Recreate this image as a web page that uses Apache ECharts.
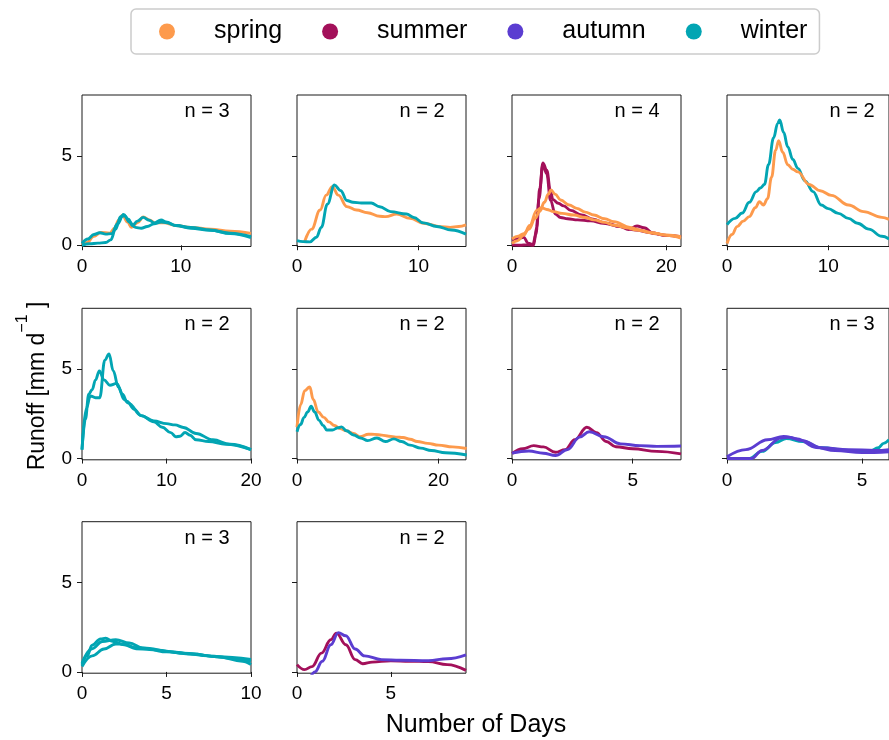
<!DOCTYPE html>
<html>
<head>
<meta charset="utf-8">
<script src="https://cdn.jsdelivr.net/npm/echarts@6/dist/echarts.min.js"></script>
<style>
html,body{margin:0;padding:0;background:#fff;}
#chart{width:889px;height:740px;}
</style>
</head>
<body>
<div id="chart"></div>
<script>
// ---------- DATA ----------
const seasons = ['spring', 'summer', 'autumn', 'winter'];
const nLabels = [3, 2, 4, 2, 2, 2, 2, 3, 3, 2];
const xMax = [17.1, 13.9, 21.9, 16, 20, 23.9, 7, 6, 10, 9];
const xTicks = [[0, 10], [0, 10], [0, 20], [0, 10], [0, 10, 20], [0, 20], [0, 5], [0, 5], [0, 5, 10], [0, 5]];
const yTicks = [0, 5];

// panel 1
const p1_spring = [[0,0],[0.5,0.15],[1.2,0.5],[1.9,0.72],[2.8,0.68],[3.3,0.95],[3.7,1.4],[4.1,1.68],[4.6,1.3],[5.0,1.0],[5.6,1.25],[6.2,1.58],[6.8,1.42],[7.4,1.25],[8.3,1.25],[9.5,1.1],[11,1.0],[13,0.9],[15,0.78],[17.1,0.66]];
const p1_winterA = [[0,0.1],[0.6,0.35],[1.2,0.6],[1.8,0.7],[2.4,0.62],[3.0,0.65],[3.6,1.2],[4.2,1.72],[4.7,1.45],[5.1,1.1],[5.6,1.35],[6.2,1.56],[6.8,1.4],[7.3,1.25],[8.0,1.42],[8.5,1.3],[9.5,1.1],[11,0.95],[13,0.83],[15,0.68],[17.1,0.48]];
const p1_winterB = [[0,0],[0.8,0.08],[1.6,0.12],[2.4,0.15],[2.9,0.3],[3.4,0.9],[3.9,1.6],[4.3,1.65],[4.8,1.3],[5.4,1.0],[6,0.95],[6.6,1.05],[7.3,1.2],[8,1.3],[8.6,1.25],[9.5,1.1],[11,1.0],[13,0.85],[15,0.65],[17.1,0.42]];
// panel 2
const p2_spring = [[0.6,0.15],[1.2,0.9],[1.9,1.97],[2.4,2.8],[2.9,3.28],[3.4,2.8],[4.1,2.16],[4.9,1.97],[5.8,1.82],[6.8,1.62],[7.3,1.6],[8.2,1.75],[9.3,1.5],[10.4,1.23],[11.8,1.04],[12.6,1.0],[13.3,1.05],[13.9,1.14]];
const p2_winter = [[0,0.26],[0.5,0.2],[1.07,0.19],[1.6,0.45],[2.0,1.0],[2.5,2.3],[3.08,3.37],[3.6,3.05],[4.1,2.5],[4.6,2.4],[5.3,2.36],[6.1,2.36],[6.8,2.15],[7.7,1.88],[9.0,1.75],[9.6,1.55],[10.4,1.25],[11.5,1.05],[12.7,0.85],[13.9,0.62]];
// panel 3
const p3_summerA = [[0,0.3],[0.8,0.38],[1.5,0.45],[2.1,0.12],[2.7,0.05],[3.1,0.6],[3.5,2.6],[4.0,4.6],[4.5,4.2],[5.0,3.0],[5.3,2.55],[6.0,2.35],[6.7,2.2],[7.6,1.95],[9,1.7],[10.5,1.45],[12,1.25],[14,1.05],[16,0.85],[18,0.7],[20,0.55],[21.9,0.45]];
const p3_summerB = [[0,0.02],[1,0.0],[2,0.02],[2.8,0.0],[3.2,1.0],[3.6,3.2],[4.0,4.5],[4.5,4.0],[5.0,2.5],[5.6,1.75],[6.3,1.55],[7.2,1.48],[8.5,1.42],[10.2,1.36],[11.9,1.23],[14,1.04],[15.1,0.88],[16.2,1.08],[17.1,0.98],[18.4,0.65],[20,0.55],[21.9,0.48]];
const p3_springA = [[0,0.35],[0.8,0.5],[1.5,0.65],[2.2,0.9],[3.0,1.5],[3.6,1.9],[4.2,2.4],[4.7,2.85],[5.05,3.09],[5.6,2.85],[6.3,2.53],[7.4,2.25],[8.4,2.06],[9.5,1.85],[10.6,1.69],[12,1.48],[13.2,1.32],[15.3,1.0],[16.8,0.82],[18.4,0.67],[20,0.55],[21.9,0.4]];
const p3_springB = [[0,0.1],[0.7,0.25],[1.5,0.55],[2.3,1.1],[3.2,1.95],[3.8,2.1],[4.5,2.0],[5.4,1.88],[6.5,1.78],[8,1.69],[9.5,1.55],[10.6,1.42],[12,1.28],[13.2,1.12],[14.8,0.98],[16.2,0.85],[18,0.7],[20,0.58],[21.9,0.48]];
// panel 4
const p4_spring = [[0,0.1],[0.5,0.6],[1.0,1.04],[1.6,1.35],[2.2,1.6],[2.8,2.1],[3.2,2.43],[3.6,2.25],[4.0,2.6],[4.4,3.8],[4.8,5.3],[5.1,5.85],[5.5,5.2],[6.0,4.5],[6.5,4.25],[7.0,4.1],[8.1,3.4],[9.2,3.05],[10.3,2.79],[12,2.25],[13.5,1.88],[15.3,1.56],[16,1.45]];
const p4_winter = [[0,1.15],[0.8,1.5],[1.5,1.8],[2.2,2.4],[2.9,3.0],[3.3,3.2],[3.7,3.4],[4.1,4.5],[4.6,6.0],[5.0,6.8],[5.2,7.0],[5.6,6.3],[6.0,5.5],[6.5,4.8],[7.0,4.3],[7.7,3.6],[8.5,3.0],[9.3,2.25],[10,2.05],[11,1.78],[12,1.5],[12.9,1.23],[14,0.9],[15.3,0.5],[16,0.35]];
// panel 5
const p5_winterA = [[0,0.5],[0.4,2.2],[0.8,3.6],[1.2,3.85],[1.6,4.4],[2.05,4.9],[2.6,4.4],[3.3,4.1],[4.1,4.2],[4.8,3.6],[5.3,3.2],[6.2,2.75],[7,2.4],[8.5,2.1],[10,1.95],[11,1.88],[12,1.74],[13.5,1.4],[15.5,1.05],[17.5,0.8],[20,0.5]];
const p5_winterB = [[0,0.5],[0.5,2.8],[1.0,3.5],[1.6,3.4],[2.1,3.4],[2.7,5.5],[3.2,5.85],[3.7,4.9],[4.3,4.0],[5.0,3.3],[5.5,3.1],[7,2.4],[8.5,2.05],[9.5,1.75],[10.5,1.45],[11.1,1.22],[11.6,1.25],[12.2,1.46],[12.8,1.3],[13.5,1.05],[15,0.95],[17,0.8],[20,0.5]];
// panel 6
const p6_spring = [[0,1.75],[0.5,3.0],[1.1,3.8],[1.8,4.0],[2.3,3.3],[3.0,2.6],[3.8,2.3],[4.5,2.05],[5.3,1.85],[6.1,1.68],[7,1.55],[8,1.4],[8.9,1.22],[10.1,1.36],[11,1.35],[12,1.31],[13,1.25],[14,1.2],[15,1.18],[16,1.08],[17,0.95],[18.5,0.85],[20,0.75],[22,0.65],[24,0.56]];
const p6_winter = [[0,1.5],[0.5,1.9],[1.0,2.3],[1.5,2.6],[2.0,2.92],[2.5,2.6],[3.1,2.15],[3.7,1.85],[4.2,1.6],[5.0,1.6],[5.8,1.72],[6.3,1.77],[7,1.55],[8,1.32],[9,1.15],[10,1.0],[11.3,1.15],[12.5,0.95],[13.7,1.1],[14.8,0.95],[16,0.75],[17.5,0.58],[19,0.45],[21,0.32],[24,0.2]];
// panel 7
const p7_summer = [[0,0.28],[0.45,0.55],[0.9,0.72],[1.3,0.65],[1.8,0.35],[2.2,0.5],[2.6,1.05],[3.1,1.75],[3.5,1.45],[3.9,0.95],[4.3,0.66],[5,0.55],[6,0.4],[7,0.26]];
const p7_autumn = [[0,0.3],[0.7,0.42],[1.3,0.3],[1.8,0.17],[2.3,0.5],[2.8,1.2],[3.2,1.5],[3.8,1.22],[4.5,0.82],[5.3,0.72],[6,0.68],[7,0.7]];
// panel 8
const p8_winter = [[0,0],[0.8,0],[1.3,0.4],[1.8,0.9],[2.2,1.12],[2.8,0.95],[3.5,0.6],[4.5,0.45],[5.3,0.42],[5.6,0.6],[5.8,0.85],[6,1.05]];
const p8_autumnA = [[0,0.1],[0.7,0.5],[1.5,1.05],[2.1,1.24],[2.6,1.1],[3.3,0.62],[4,0.45],[5,0.33],[6,0.38]];
const p8_autumnB = [[0,0],[0.9,0.0],[1.3,0.45],[2.0,1.15],[2.3,1.2],[2.8,1.0],[3.5,0.6],[4.5,0.5],[5.5,0.45],[6,0.5]];
// panel 9
const p9_winterA = [[0,0.4],[0.3,0.9],[0.6,1.5],[1.1,1.85],[1.4,1.88],[1.8,1.72],[2.5,1.52],[3.2,1.3],[4,1.25],[5,1.12],[6.5,1.0],[8,0.85],[9.5,0.6],[10,0.42]];
const p9_winterB = [[0,0.5],[0.6,1.3],[1.2,1.7],[2.0,1.8],[2.8,1.62],[3.6,1.33],[4.5,1.22],[5.5,1.1],[6.5,1.0],[8,0.85],[10,0.7]];
const p9_winterC = [[0,0.3],[0.6,0.9],[1.3,1.28],[2.0,1.56],[2.5,1.55],[3.2,1.35],[4.0,1.32],[5,1.15],[6,1.05],[7.5,0.9],[9,0.75],[10,0.6]];
// panel 10
const p10_summer = [[0,0.41],[0.4,0.13],[0.8,0.3],[1.3,1.05],[1.8,1.8],[2.1,2.17],[2.6,1.52],[3.1,0.69],[3.5,0.46],[4,0.55],[5,0.63],[6,0.6],[7,0.58],[8,0.41],[9,0.09]];
const p10_autumn = [[0.6,-0.6],[0.95,0.0],[1.35,0.6],[1.8,1.52],[2.2,2.2],[2.6,2.02],[3.1,1.28],[3.6,0.9],[4.5,0.69],[5.5,0.65],[7,0.63],[8,0.74],[9,0.96]];

const panels = [
  [['spring', p1_spring], ['winter', p1_winterA], ['winter', p1_winterB]],
  [['spring', p2_spring], ['winter', p2_winter]],
  [['summer', p3_summerA], ['summer', p3_summerB], ['spring', p3_springA], ['spring', p3_springB]],
  [['winter', p4_winter], ['spring', p4_spring]],
  [['winter', p5_winterA], ['winter', p5_winterB]],
  [['spring', p6_spring], ['winter', p6_winter]],
  [['summer', p7_summer], ['autumn', p7_autumn]],
  [['winter', p8_winter], ['autumn', p8_autumnA], ['autumn', p8_autumnB]],
  [['winter', p9_winterA], ['winter', p9_winterB], ['winter', p9_winterC]],
  [['summer', p10_summer], ['autumn', p10_autumn]]
];

// ---------- STYLE / LAYOUT ----------
const colors = { spring: '#fd9a4c', summer: '#a3105a', autumn: '#5b3dd1', winter: '#02a5b3' };
const FONT = '"Liberation Sans", Arial, Helvetica, sans-serif';
const colLeft = [82, 297, 512, 727];
const rowTop = [95, 308.3, 521.7];
const PW = 169, PH = 151.5;
const Y_MIN = -0.07, Y_MAX = 8.4;

const grid = [], xAxis = [], yAxis = [], series = [], graphic = [];
panels.forEach((lines, i) => {
  const r = Math.floor(i / 4), c = i % 4;
  const left = colLeft[c], top = rowTop[r];
  grid.push({ left: left, top: top, width: PW, height: PH, show: true,
    borderColor: '#1a1a1a', borderWidth: 1, backgroundColor: 'transparent' });
  xAxis.push({ type: 'value', gridIndex: i, min: 0, max: xMax[i],
    axisLine: { show: false }, splitLine: { show: false },
    axisTick: { show: true, customValues: xTicks[i], length: 5, lineStyle: { color: '#1a1a1a', width: 1 } },
    axisLabel: { customValues: xTicks[i], fontSize: 19, color: '#000', margin: 11, fontFamily: FONT } });
  yAxis.push({ type: 'value', gridIndex: i, min: Y_MIN, max: Y_MAX,
    axisLine: { show: false }, splitLine: { show: false },
    axisTick: { show: true, customValues: yTicks, length: 5, lineStyle: { color: '#1a1a1a', width: 1 } },
    axisLabel: { show: c === 0, customValues: yTicks, fontSize: 19, color: '#000', margin: 10, fontFamily: FONT } });
  lines.forEach(([season, data]) => {
    series.push({ type: 'line', name: season, xAxisIndex: i, yAxisIndex: i, data: data,
      showSymbol: false, symbol: 'circle', smooth: 0.4, smoothMonotone: 'x', clip: true,
      lineStyle: { color: colors[season], width: 2.9 }, itemStyle: { color: colors[season] } });
  });
  graphic.push({ type: 'text', x: left + PW - 21.5, y: top + 16.5,
    style: { text: 'n = ' + nLabels[i], fontSize: 20, fontFamily: FONT, fill: '#000',
      align: 'right', verticalAlign: 'middle' } });
});

graphic.push({ type: 'text', x: 476, y: 725,
  style: { text: 'Number of Days', fontSize: 25, fontFamily: FONT, fill: '#000', align: 'center', verticalAlign: 'middle' } });
graphic.push({ type: 'text', x: 32, y: 386, rotation: Math.PI / 2,
  style: { text: '{a|Runoff [mm d}{b|−1}{a| ]}', fontFamily: FONT, fill: '#000', align: 'center', verticalAlign: 'middle',
    rich: { a: { fontSize: 23, fontFamily: FONT, lineHeight: 34, verticalAlign: 'bottom' },
            b: { fontSize: 16, fontFamily: FONT, lineHeight: 16, verticalAlign: 'top' } } } });

const chart = echarts.init(document.getElementById('chart'), null, { renderer: 'canvas' });
chart.setOption({
  animation: false,
  backgroundColor: '#fff',
  legend: { data: seasons, left: 131, top: 9, icon: 'circle', itemWidth: 16, itemHeight: 16, itemGap: 40,
    textStyle: { fontSize: 25, fontFamily: FONT, color: '#000', padding: [0, 0, 0, 34] },
    borderColor: '#cccccc', borderWidth: 1.5, borderRadius: 5, padding: [10, 12, 10, 28] },
  grid: grid, xAxis: xAxis, yAxis: yAxis, series: series, graphic: graphic
});
</script>
</body>
</html>
